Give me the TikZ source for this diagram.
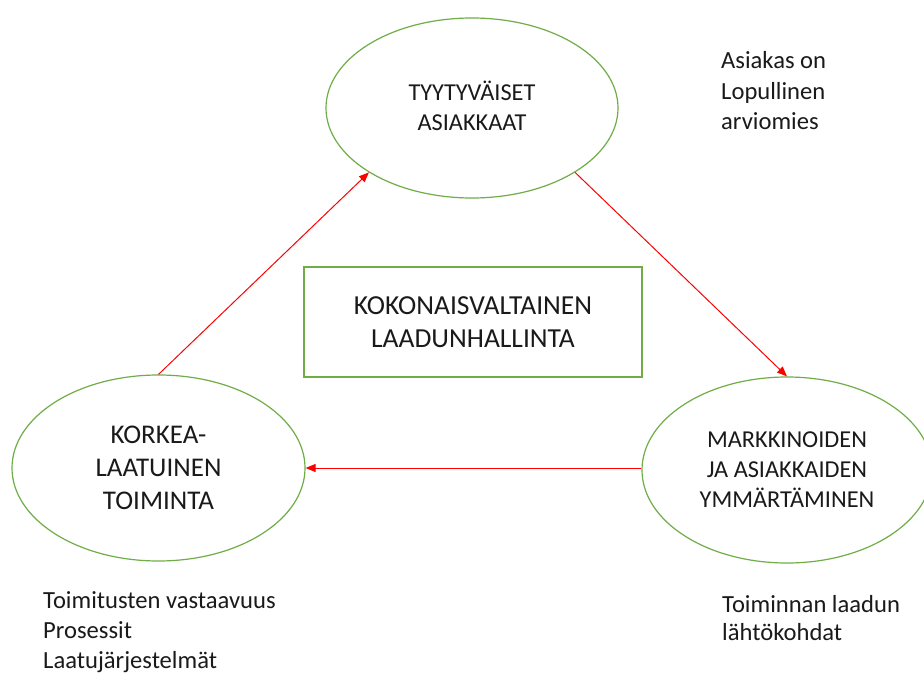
\documentclass[tikz,border=0pt]{standalone}
\usepackage{fontspec}
\setmainfont{Carlito}
\usetikzlibrary{shapes.geometric,arrows.meta}
\definecolor{ogreen}{HTML}{70AD47}
\definecolor{ored}{HTML}{FF0000}
\definecolor{otext}{HTML}{1A1A1A}
\tikzset{
  oval/.style={ellipse, draw=ogreen, line width=1.2bp, inner sep=0pt, align=center, text=otext},
  flow/.style={draw=ored, line width=1bp, -{Triangle[length=10bp,width=8bp]}},
  note/.style={inner sep=0pt, align=left, anchor=base west, text=otext},
}
\begin{document}
\begin{tikzpicture}[x=1bp,y=-1bp]
\path[fill=white,use as bounding box] (0,0) rectangle (924,673);

\node[oval, minimum width=292bp, minimum height=180bp, font=\fontsize{24.3bp}{30bp}\selectfont] (top) at (472,108) {\raisebox{0pt}[16bp][0pt]{TYYTYVÄISET}\\ASIAKKAAT};
\node[oval, minimum width=293bp, minimum height=186bp, font=\fontsize{27bp}{33bp}\selectfont] (left) at (158.5,468) {KORKEA-\\LAATUINEN\\TOIMINTA};
\node[oval, minimum width=290bp, minimum height=186bp, font=\fontsize{24.3bp}{30bp}\selectfont] (right) at (787,470) {MARKKINOIDEN\\JA ASIAKKAIDEN\\YMMÄRTÄMINEN};

\node[draw=ogreen, line width=1.2bp, minimum width=338bp, minimum height=110bp, inner sep=0pt, align=center, text=otext, font=\fontsize{27.5bp}{33bp}\selectfont] (box) at (473,322) {KOKONAISVALTAINEN\\LAADUNHALLINTA};

\coordinate (rin) at (left.east -| right.west);
\draw[flow] (left.90) -- (top.212);
\draw[flow] (top.328) -- (right.90);
\draw[flow] (rin) -- (left.east);

\node[note, font=\fontsize{24.6bp}{30.5bp}\selectfont] (n1) at (721,130) {Asiakas on\\Lopullinen\\arviomies};
\node[note, font=\fontsize{24.6bp}{30bp}\selectfont] (n2) at (43,668) {Toimitusten vastaavuus\\Prosessit\\Laatujärjestelmät};
\node[note, font=\fontsize{24.6bp}{28bp}\selectfont] (n3) at (722,640) {Toiminnan laadun\\lähtökohdat};
\end{tikzpicture}
\end{document}
